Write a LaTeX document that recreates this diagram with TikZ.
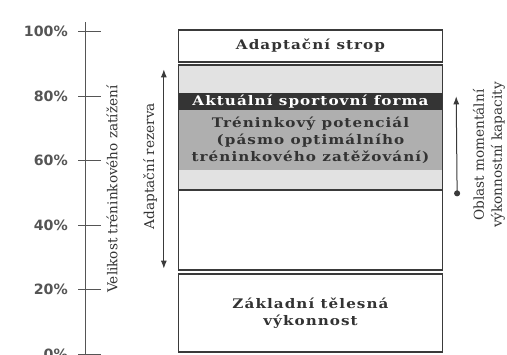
\documentclass[tikz,border=0pt]{standalone}
\usepackage{fontspec}
\setmainfont{DejaVu Serif}
\newfontfamily\adboxfont{DejaVu Serif}[LetterSpace=8.0,FakeStretch=1.15]
\newfontfamily\adpctfont{DejaVu Sans}
\usetikzlibrary{arrows.meta}
\definecolor{adline}{HTML}{3A3A3A}
\definecolor{adaxis}{HTML}{555555}
\definecolor{adzone}{HTML}{E2E2E2}
\definecolor{addark}{HTML}{343434}
\definecolor{admid}{HTML}{AFAFAF}
\definecolor{adtext}{HTML}{333333}
\tikzstyle{adbox}=[draw=adline,line width=1.3pt,minimum width=264pt,inner sep=0pt,align=center,
  font=\adboxfont\bfseries\fontsize{13.2}{17}\selectfont,text=adtext]
\tikzstyle{adband}=[draw=none,minimum width=263pt,inner sep=0pt,align=center,
  font=\adboxfont\bfseries\fontsize{13.2}{17}\selectfont]
\tikzstyle{adarrow}=[{Latex[length=8pt,width=6pt]}-{Latex[length=8pt,width=6pt]},draw=adline,line width=1pt]
\tikzstyle{adside}=[rotate=90,align=center,text=adtext,inner sep=0pt,font=\fontsize{13.6}{18}\selectfont]
\tikzstyle{adpct}=[anchor=east,inner sep=0pt,text=adaxis,font=\adpctfont\bfseries\fontsize{14.2}{14}\selectfont]

\begin{document}
\begin{tikzpicture}[x=1pt,y=1pt]
    \useasboundingbox (0,0) rectangle (507,355);
    \clip (0,0) rectangle (507,355);
    % ---- load axis ----
    \draw[adaxis,line width=0.8pt] (85,-5) -- (85,333);
    \foreach \p/\y in {0/1,20/65.5,40/130,60/194.5,80/259,100/323.5} {
      \draw[adaxis,line width=0.8pt] (78,\y) -- (101,\y);
      \node[adpct] (pct\p) at (68,\y) {\p\%};
    }
    \node[adside] (load) at (112,166) {Velikost tréninkového zatížení};

    % ---- column of zones ----
    \node[adbox,minimum height=32pt] (strop) at (310.5,309) {Adaptační strop};
    \node[adbox,fill=adzone,minimum height=125pt] (zone) at (310.5,227.5) {};
    \node[adband,fill=admid,minimum height=60pt,text=adtext] (pot) at (310.5,214.5)
      {Tréninkový potenciál\\(pásmo optimálního\\tréninkového zatěžování)};
    \node[adband,fill=addark,minimum height=17pt,text=white] (forma) at (310.5,253) {Aktuální sportovní forma};
    \node[adbox,minimum height=80pt] (rest) at (310.5,125) {};
    \node[adbox,minimum height=78pt] (base) at (310.5,42) {Základní tělesná\\výkonnost};

    % ---- adaptation reserve ----
    \coordinate (rtop) at ([xshift=-14pt,yshift=-5pt]zone.north west);
    \coordinate (rbot) at ([xshift=-14pt,yshift=2pt]rest.south west);
    \draw[adarrow] (rbot) -- (rtop);
    \node[adside] (reserve) at (150,189) {Adaptační rezerva};

    % ---- momentary capacity ----
    \coordinate (ctop) at ([xshift=14pt,yshift=-3pt]forma.north east);
    \coordinate (cbot) at ([xshift=14pt,yshift=-7pt]rest.north east);
    \draw[{Circle[length=6pt]}-{Latex[length=8pt,width=6pt]},draw=adline,line width=1pt] (cbot) -- (ctop);
    \node[adside] (capacity) at (489,200) {Oblast momentální\\výkonnostní kapacity};
  \end{tikzpicture}
\end{document}
